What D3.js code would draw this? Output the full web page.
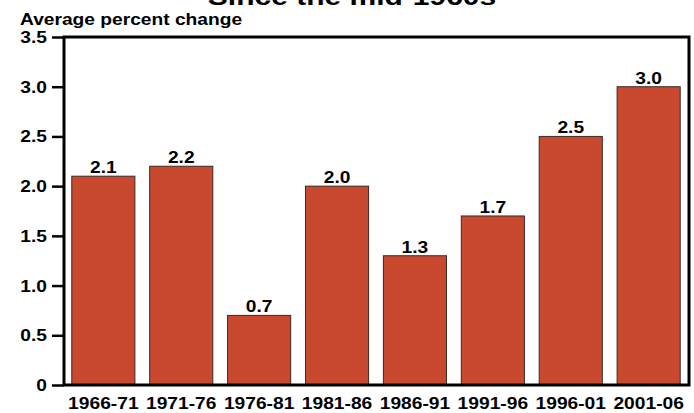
<!DOCTYPE html>
<html>
<head>
<meta charset="utf-8">
<script src="https://cdn.jsdelivr.net/npm/d3@7"></script>
<style>
  body { margin: 0; background: #fff; }
  text { font-family: "Liberation Sans", Arial, Helvetica, sans-serif; font-weight: bold; fill: #000; }
</style>
</head>
<body>
<svg id="chart" width="694" height="413"></svg>
<script>
const periods = ["1966-71", "1971-76", "1976-81", "1981-86", "1986-91", "1991-96", "1996-01", "2001-06"]
const changes = [2.1, 2.2, 0.7, 2.0, 1.3, 1.7, 2.5, 3.0]
const yTicks = [0, 0.5, 1.0, 1.5, 2.0, 2.5, 3.0, 3.5]
const title = "Since the mid-1960s"
const yTitle = "Average percent change"

const margin = ({ top: 37, right: 5, bottom: 28, left: 64 })
const width = 694
const height = 413
const sx = 1.13 // text in the original looks stretched sideways

const svg = d3.select("#chart")

const x = d3.scaleBand()
  .domain(periods)
  .range([margin.left, width - margin.right - 1])
  .paddingInner(0.19)
  .paddingOuter(0.1)

const y = d3.scaleLinear()
  .domain([0, 3.5])
  .range([height - margin.bottom, margin.top])

// bars
svg.append("g")
  .selectAll("rect")
  .data(periods)
  .join("rect")
    .attr("x", d => x(d))
    .attr("y", (d, i) => y(changes[i]))
    .attr("width", x.bandwidth())
    .attr("height", (d, i) => y(0) - y(changes[i]))
    .attr("fill", "#c9492f")
    .attr("stroke", "#3a2a26")
    .attr("stroke-width", 1)

// value labels
svg.append("g")
  .selectAll("text")
  .data(periods)
  .join("text")
    .attr("transform", (d, i) => `translate(${x(d) + x.bandwidth() / 2},${y(changes[i]) - 3}) scale(${sx},1)`)
    .attr("text-anchor", "middle")
    .style("font-size", "17px")
    .text((d, i) => changes[i].toFixed(1))

// frame
const right = width - margin.right
svg.append("rect")
  .attr("x", margin.left)
  .attr("y", margin.top)
  .attr("width", right - margin.left)
  .attr("height", y(0) - margin.top)
  .attr("fill", "none")
  .attr("stroke", "#000")
  .attr("stroke-width", 3)

// y axis
const yAxis = svg.append("g")
  .attr("transform", `translate(${margin.left},0)`)
  .call(d3.axisLeft(y).tickValues(yTicks).tickSize(12)
    .tickFormat(d => d === 0 ? "0" : d3.format(".1f")(d)))
yAxis.select(".domain").remove()
yAxis.selectAll(".tick line").attr("stroke", "#000").attr("stroke-width", 2.5)
yAxis.selectAll(".tick text")
  .attr("x", 0)
  .attr("transform", `translate(-17,0) scale(${sx},1)`)
  .style("font-size", "17px")

// x axis labels
const xAxis = svg.append("g")
  .attr("transform", `translate(0,${y(0)})`)
  .call(d3.axisBottom(x).tickSize(0).tickPadding(12))
xAxis.select(".domain").remove()
xAxis.selectAll(".tick text")
  .attr("transform", `scale(${sx},1)`)
  .style("font-size", "17px")

// y title
svg.append("text")
  .attr("transform", `translate(20,25) scale(1.2,1)`)
  .style("font-size", "16px")
  .text(yTitle)

// chart title, cut off at the top in the original
svg.append("text")
  .attr("transform", `translate(352,5) scale(1.25,1)`)
  .attr("text-anchor", "middle")
  .style("font-size", "24px")
  .text(title)
</script>
</body>
</html>
